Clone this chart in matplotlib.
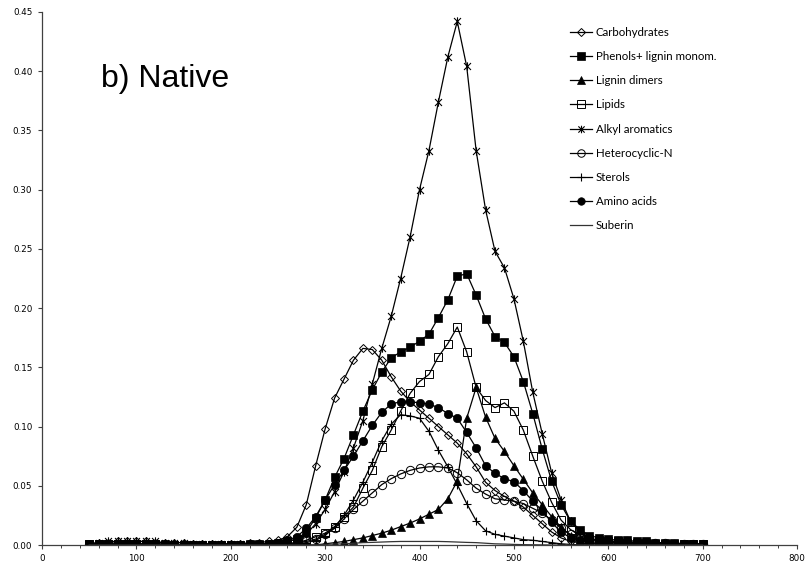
import matplotlib.pyplot as plt
from matplotlib.path import Path
from matplotlib.ticker import MultipleLocator, FormatStrFormatter

temps = list(range(50, 710, 10))

carbohydrates = [0.001, 0.002, 0.002, 0.003, 0.003, 0.003, 0.003, 0.002, 0.002, 0.002,
                 0.002, 0.001, 0.001, 0.001, 0.001, 0.001, 0.001, 0.002, 0.002, 0.003,
                 0.004, 0.007, 0.015, 0.034, 0.067, 0.098, 0.124, 0.140, 0.156, 0.166,
                 0.165, 0.156, 0.142, 0.130, 0.121, 0.114, 0.107, 0.100, 0.093, 0.086,
                 0.077, 0.066, 0.053, 0.046, 0.041, 0.037, 0.032, 0.025, 0.018, 0.011,
                 0.006, 0.003, 0.002, 0.001, 0.001, 0.001, 0.001, 0.001, 0.001, 0.001,
                 0.000, 0.000, 0.000, 0.000, 0.000, 0.000]
phenols = [0.001, 0.001, 0.001, 0.001, 0.001, 0.001, 0.001, 0.001, 0.001, 0.000,
           0.000, 0.000, 0.000, 0.000, 0.000, 0.000, 0.000, 0.001, 0.001, 0.001,
           0.002, 0.003, 0.005, 0.011, 0.023, 0.038, 0.057, 0.073, 0.093, 0.113,
           0.131, 0.146, 0.158, 0.163, 0.167, 0.172, 0.178, 0.192, 0.207, 0.227,
           0.229, 0.211, 0.191, 0.176, 0.171, 0.159, 0.138, 0.111, 0.081, 0.054,
           0.034, 0.020, 0.013, 0.008, 0.006, 0.005, 0.004, 0.004, 0.003, 0.003,
           0.002, 0.002, 0.002, 0.001, 0.001, 0.001]
lignin_dimers = [0.000, 0.000, 0.000, 0.000, 0.000, 0.000, 0.000, 0.000, 0.000, 0.000,
                 0.000, 0.000, 0.000, 0.000, 0.000, 0.000, 0.000, 0.000, 0.000, 0.000,
                 0.000, 0.000, 0.000, 0.000, 0.000, 0.001, 0.002, 0.003, 0.0045, 0.006,
                 0.008, 0.010, 0.0125, 0.0155, 0.0185, 0.022, 0.026, 0.030, 0.039, 0.054,
                 0.107, 0.133, 0.108, 0.090, 0.079, 0.067, 0.0555, 0.044, 0.034, 0.024,
                 0.015, 0.008, 0.004, 0.002, 0.001, 0.001, 0.000, 0.000, 0.000, 0.000,
                 0.000, 0.000, 0.000, 0.000, 0.000, 0.000]
lipids = [0.001, 0.001, 0.001, 0.001, 0.001, 0.001, 0.001, 0.001, 0.000, 0.000,
          0.000, 0.000, 0.000, 0.000, 0.000, 0.000, 0.000, 0.000, 0.000, 0.000,
          0.001, 0.001, 0.002, 0.004, 0.007, 0.010, 0.0155, 0.024, 0.032, 0.048,
          0.063, 0.083, 0.097, 0.113, 0.128, 0.138, 0.144, 0.159, 0.170, 0.184,
          0.163, 0.133, 0.122, 0.116, 0.120, 0.113, 0.097, 0.075, 0.054, 0.036,
          0.021, 0.013, 0.008, 0.005, 0.004, 0.003, 0.003, 0.002, 0.002, 0.002,
          0.001, 0.001, 0.001, 0.001, 0.001, 0.001]
alkyl_aromatics = [0.001, 0.002, 0.003, 0.003, 0.003, 0.003, 0.003, 0.003, 0.002, 0.002,
                   0.002, 0.001, 0.001, 0.001, 0.001, 0.001, 0.001, 0.001, 0.001, 0.001,
                   0.002, 0.003, 0.005, 0.009, 0.018, 0.030, 0.045, 0.062, 0.082, 0.105,
                   0.136, 0.166, 0.193, 0.225, 0.260, 0.300, 0.333, 0.374, 0.412, 0.442,
                   0.404, 0.333, 0.283, 0.248, 0.234, 0.208, 0.172, 0.129, 0.094, 0.061,
                   0.038, 0.020, 0.011, 0.006, 0.004, 0.003, 0.002, 0.002, 0.002, 0.001,
                   0.001, 0.001, 0.001, 0.000, 0.000, 0.000]
heterocyclic_n = [0.000, 0.000, 0.000, 0.000, 0.000, 0.000, 0.000, 0.000, 0.000, 0.000,
                  0.000, 0.000, 0.000, 0.000, 0.000, 0.000, 0.000, 0.000, 0.000, 0.000,
                  0.000, 0.001, 0.002, 0.003, 0.005, 0.009, 0.014, 0.022, 0.030, 0.037,
                  0.044, 0.051, 0.056, 0.060, 0.063, 0.065, 0.066, 0.066, 0.065, 0.061,
                  0.055, 0.048, 0.043, 0.039, 0.038, 0.037, 0.035, 0.031, 0.027, 0.021,
                  0.014, 0.009, 0.006, 0.004, 0.004, 0.003, 0.003, 0.003, 0.002, 0.002,
                  0.002, 0.002, 0.001, 0.001, 0.001, 0.001]
sterols = [0.000, 0.000, 0.000, 0.000, 0.000, 0.000, 0.000, 0.000, 0.000, 0.000,
           0.000, 0.000, 0.000, 0.000, 0.000, 0.000, 0.000, 0.000, 0.000, 0.000,
           0.000, 0.000, 0.001, 0.002, 0.004, 0.008, 0.015, 0.025, 0.038, 0.053,
           0.070, 0.088, 0.102, 0.110, 0.109, 0.107, 0.096, 0.080, 0.066, 0.051,
           0.035, 0.0205, 0.012, 0.009, 0.0075, 0.006, 0.0045, 0.004, 0.003, 0.002,
           0.001, 0.0005, 0.000, 0.000, 0.000, 0.000, 0.000, 0.000, 0.000, 0.000,
           0.000, 0.000, 0.000, 0.000, 0.000, 0.000]
amino_acids = [0.000, 0.000, 0.000, 0.000, 0.000, 0.000, 0.000, 0.000, 0.000, 0.000,
               0.000, 0.000, 0.000, 0.000, 0.000, 0.000, 0.000, 0.001, 0.001, 0.001,
               0.002, 0.004, 0.007, 0.014, 0.024, 0.038, 0.051, 0.063, 0.075, 0.088,
               0.101, 0.112, 0.119, 0.121, 0.121, 0.120, 0.119, 0.116, 0.111, 0.107,
               0.095, 0.082, 0.067, 0.0605, 0.056, 0.0535, 0.046, 0.037, 0.029, 0.019,
               0.011, 0.006, 0.004, 0.003, 0.002, 0.002, 0.002, 0.001, 0.001, 0.001,
               0.001, 0.001, 0.000, 0.000, 0.000, 0.000]
suberin = [0.000, 0.000, 0.000, 0.000, 0.000, 0.000, 0.000, 0.000, 0.000, 0.000,
           0.000, 0.000, 0.000, 0.000, 0.000, 0.000, 0.000, 0.000, 0.000, 0.000,
           0.000, 0.000, 0.000, 0.000, 0.000, 0.0005, 0.0008, 0.001, 0.0015, 0.002,
           0.0022, 0.0025, 0.0028, 0.003, 0.003, 0.003, 0.003, 0.003, 0.0028, 0.0025,
           0.0022, 0.002, 0.0015, 0.001, 0.0008, 0.0005, 0.0003, 0.0002, 0.0001, 0.000,
           0.000, 0.000, 0.000, 0.000, 0.000, 0.000, 0.000, 0.000, 0.000, 0.000,
           0.000, 0.000, 0.000, 0.000, 0.000, 0.000]

# excel style star marker: an X with a vertical bar
star = Path([(-1, -1), (1, 1), (-1, 1), (1, -1), (0, -1.2), (0, 1.2)],
            [Path.MOVETO, Path.LINETO, Path.MOVETO, Path.LINETO, Path.MOVETO, Path.LINETO])

fig = plt.figure(figsize=(8.08, 5.66), dpi=100)
ax = fig.add_axes([0.052, 0.0371, 0.9344, 0.9417])

lw = 0.9
k = 'black'
ax.plot(temps, carbohydrates, color=k, lw=lw, marker='D', ms=4.5, mfc='none', mew=0.7, label='Carbohydrates')
ax.plot(temps, phenols, color=k, lw=lw, marker='s', ms=6, mfc=k, mew=0.5, label='Phenols+ lignin monom.')
ax.plot(temps, lignin_dimers, color=k, lw=lw, marker='^', ms=6, mfc=k, mew=0.5, label='Lignin dimers')
ax.plot(temps, lipids, color=k, lw=lw, marker='s', ms=6, mfc='none', mew=0.7, label='Lipids')
ax.plot(temps, alkyl_aromatics, color=k, lw=lw, marker=star, ms=6, mew=0.8, label='Alkyl aromatics')
ax.plot(temps, heterocyclic_n, color=k, lw=lw, marker='o', ms=6, mfc='none', mew=0.7, label='Heterocyclic-N')
ax.plot(temps, sterols, color=k, lw=lw, marker='+', ms=6, mew=0.8, label='Sterols')
ax.plot(temps, amino_acids, color=k, lw=lw, marker='o', ms=6, mfc=k, mew=0.5, label='Amino acids')
ax.plot(temps, suberin, color='#333333', lw=lw, label='Suberin')

ax.set_xlim(0, 800)
ax.set_ylim(0, 0.45)
ax.xaxis.set_major_locator(MultipleLocator(100))
ax.xaxis.set_minor_locator(MultipleLocator(20))
ax.yaxis.set_major_locator(MultipleLocator(0.05))
ax.yaxis.set_major_formatter(FormatStrFormatter('%.2f'))

for s in ['top', 'right']:
    ax.spines[s].set_visible(False)
for s in ['left', 'bottom']:
    ax.spines[s].set_color('#404040')
    ax.spines[s].set_linewidth(0.9)
ax.tick_params(axis='both', labelsize=6.3, colors='#404040', labelcolor='black', width=0.8)
ax.tick_params(axis='y', length=3, pad=4)
ax.tick_params(axis='x', which='major', length=3, pad=3.5)
ax.tick_params(axis='x', which='minor', length=2, width=0.7, colors='#404040')

ax.text(0.078, 0.875, 'b) Native', transform=ax.transAxes, fontsize=23,
        family='Liberation Sans', va='center', ha='left')

ax.legend(loc='upper left', bbox_to_anchor=(570 / 808, 1 - 27 / 566), bbox_transform=fig.transFigure,
          frameon=False, prop={'family': 'Lato', 'size': 8.3}, handlelength=1.9, handletextpad=0.35,
          labelspacing=1.14, borderpad=0, borderaxespad=0, markerscale=0.9)

fig.savefig('out.png', dpi=100)
